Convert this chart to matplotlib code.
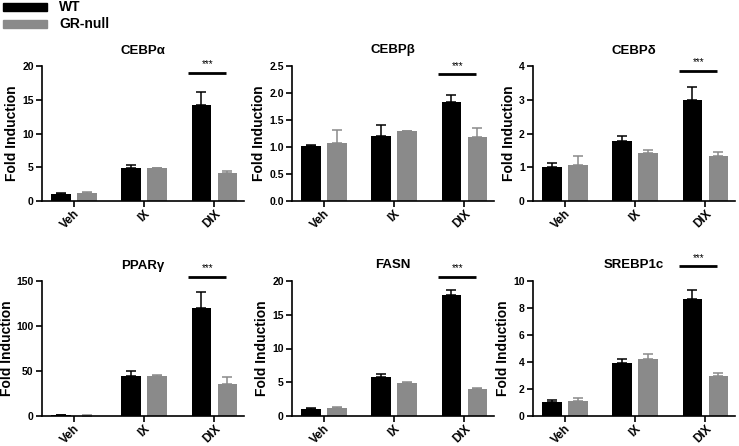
import matplotlib
matplotlib.use("Agg")
import matplotlib.pyplot as plt
import numpy as np
from matplotlib.patches import Rectangle

plt.rcParams['font.family'] = ['Liberation Sans', 'DejaVu Sans']
plt.rcParams['font.weight'] = 'bold'

groups = ["Veh", "IX", "DIX"]
series = ["WT", "GR-null"]

titles = ["CEBPα", "CEBPβ", "CEBPδ", "PPARγ", "FASN", "SREBP1c"]

# mean values (WT, GR-null) for Veh, IX, DIX
wt_vals = [
    [1.1, 4.9, 14.2],
    [1.01, 1.21, 1.84],
    [1.02, 1.77, 2.99],
    [1.0, 45.0, 120.0],
    [1.1, 5.8, 17.9],
    [1.05, 3.95, 8.7],
]
gr_vals = [
    [1.15, 4.85, 4.1],
    [1.08, 1.29, 1.19],
    [1.07, 1.41, 1.34],
    [0.5, 45.0, 36.0],
    [1.2, 4.85, 4.0],
    [1.1, 4.2, 2.95],
]
# upper error bars
wt_err = [
    [0.15, 0.5, 2.0],
    [0.02, 0.19, 0.13],
    [0.1, 0.16, 0.38],
    [0.3, 5.0, 18.0],
    [0.1, 0.4, 0.7],
    [0.15, 0.25, 0.6],
]
gr_err = [
    [0.25, 0.1, 0.4],
    [0.24, 0.01, 0.17],
    [0.26, 0.11, 0.1],
    [0.2, 1.0, 7.0],
    [0.15, 0.15, 0.2],
    [0.22, 0.4, 0.2],
]
y_max = [20, 2.5, 4, 150, 20, 10]
y_step = [5, 0.5, 1, 50, 5, 2]
y_fmt = ["{:.0f}", "{:.1f}", "{:.0f}", "{:.0f}", "{:.0f}", "{:.0f}"]
# height of the significance line over DIX
sig_y = [19.0, 2.35, 3.86, 155.0, 20.6, 11.1]

colors = ["#000000", "#8a8a8a"]

fig = plt.figure(figsize=(7.39, 4.46), dpi=100)

lefts = [42, 292, 533]
bottoms = [1 - 201 / 446, 1 - 416 / 446]
w = 202 / 739
h = 135 / 446

x = np.arange(len(groups))
bw = 0.28
off = 0.185

for i in range(6):
    row, col = divmod(i, 3)
    ax = fig.add_axes([lefts[col] / 739, bottoms[row], w, h])
    ax.bar(x - off, wt_vals[i], bw, color=colors[0], zorder=2)
    ax.bar(x + off, gr_vals[i], bw, color=colors[1], zorder=2)
    ax.errorbar(x - off, wt_vals[i], yerr=[np.zeros(3), wt_err[i]], fmt="none",
                ecolor=colors[0], elinewidth=1.1, capsize=3.5, capthick=1.1, zorder=1)
    ax.errorbar(x + off, gr_vals[i], yerr=[np.zeros(3), gr_err[i]], fmt="none",
                ecolor=colors[1], elinewidth=1.1, capsize=3.5, capthick=1.1, zorder=1)

    ax.set_xlim(-0.45, 2.42)
    ax.set_ylim(0, y_max[i])
    ticks = np.arange(0, y_max[i] + y_step[i] / 2, y_step[i])
    ax.set_yticks(ticks)
    ax.set_yticklabels([y_fmt[i].format(t) for t in ticks], fontsize=7.5, fontweight='bold')
    ax.set_xticks(x)
    ax.set_xticklabels(groups, rotation=45, ha='right', rotation_mode='anchor',
                       fontsize=8.5, fontweight='bold')
    for s in ["top", "right"]:
        ax.spines[s].set_visible(False)
    for s in ["left", "bottom"]:
        ax.spines[s].set_linewidth(1.2)
    ax.tick_params(axis='both', direction='out', length=4, width=1.2, pad=2)
    ax.tick_params(axis='x', pad=1)
    ax.set_ylabel("Fold Induction", fontsize=10, fontweight='bold', labelpad=2)
    ax.set_title(titles[i], fontsize=9.5, fontweight='bold', pad=9)

    # significance bar over DIX
    ax.plot([2 - 0.38, 2 + 0.17], [sig_y[i], sig_y[i]], color="black", lw=2,
            clip_on=False, solid_capstyle='butt')
    ax.text(2 - 0.1, sig_y[i] + y_max[i] * 0.025, "***", ha='center', va='bottom',
            fontsize=7, fontweight='normal')

# legend in the top left corner
fig.add_artist(Rectangle((3 / 739, 1 - 11 / 446), 44 / 739, 8 / 446,
                         transform=fig.transFigure, color=colors[0]))
fig.add_artist(Rectangle((3 / 739, 1 - 28 / 446), 44 / 739, 8 / 446,
                         transform=fig.transFigure, color=colors[1]))
fig.text(59 / 739, 1 - 7 / 446, series[0], fontsize=10, fontweight='bold', va='center')
fig.text(59 / 739, 1 - 24 / 446, series[1], fontsize=10, fontweight='bold', va='center')

fig.savefig("out.png", dpi=100)
